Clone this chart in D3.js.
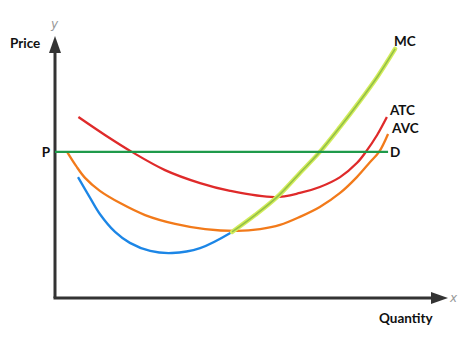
<!DOCTYPE html>
<html>
<head>
<meta charset="utf-8">
<script src="https://cdn.jsdelivr.net/npm/d3@7"></script>
<style>
  html, body { margin: 0; padding: 0; background: #fff; }
  svg { display: block; }
  .lbl { font-family: Lato, "Open Sans", sans-serif; font-weight: 700; font-size: 13.5px; fill: #111; }
  .axis-var { font-family: "DejaVu Sans", sans-serif; font-style: italic; font-size: 12px; fill: #999; }
</style>
</head>
<body>
<div id="chart"></div>
<script>
const W = 474, H = 355;

// curves: quantity (x) and price (y) in chart units 0..100
const atcQty   = [6, 12.8, 19.7, 28.2, 37.2, 44.9, 56.4, 62.8, 67.9, 73.1, 77.4, 79.7, 82.6, 85.1];
const atcPrice = [69.6, 62.7, 56.2, 49.2, 44.2, 41.2, 38.8, 40.4, 42.7, 46.5, 51.9, 56.2, 62.7, 69.6];

const avcQty   = [3.1, 5.4, 7.7, 11.5, 16.7, 23.1, 30.8, 38.5, 46.7, 52.6, 57.7, 62.8, 67.9, 73.1, 77.4, 80.8, 83.1, 85.4];
const avcPrice = [56.2, 50.8, 46.2, 41.2, 36.5, 31.9, 28.5, 26.5, 25.8, 26.5, 28.1, 31.2, 35.0, 40.4, 46.5, 52.3, 56.2, 63.1];

const mcQty   = [5.9, 9.0, 11.5, 15.4, 19.2, 24.4, 30.0, 37.2, 45.4, 51.3, 56.9, 62.8, 67.9, 73.1, 78.2, 82.8, 87.2];
const mcPrice = [46.5, 38.5, 32.3, 25.4, 21.2, 18.1, 17.3, 19.2, 25.4, 31.9, 38.8, 48.1, 56.2, 65.8, 75.8, 85.4, 95.8];
const mcSplit = 8; // MC meets AVC here: blue below, lime above

const priceP = 56.2;
const demandQty = [0, 85.4];

const svg = d3.select("#chart").append("svg")
  .attr("width", W).attr("height", H);

const x = d3.scaleLinear().domain([0, 100]).range([55, 445]);
const y = d3.scaleLinear().domain([0, 100]).range([298, 38]);

const line = d3.line()
  .x(d => x(d[0])).y(d => y(d[1]))
  .curve(d3.curveCatmullRom.alpha(0.5));

const zip = (a, b) => a.map((v, i) => [v, b[i]]);

// axes
svg.append("line")
  .attr("x1", x(0)).attr("y1", y(0)).attr("x2", x(0)).attr("y2", 50)
  .attr("stroke", "#333").attr("stroke-width", 3);
svg.append("path")
  .attr("d", `M${x(0)},36 L${x(0) - 6},53 L${x(0) + 6},53 Z`)
  .attr("fill", "#333");
svg.append("line")
  .attr("x1", x(0) - 1.5).attr("y1", y(0)).attr("x2", 433).attr("y2", y(0))
  .attr("stroke", "#333").attr("stroke-width", 3);
svg.append("path")
  .attr("d", `M448,${y(0)} L431,${y(0) - 6} L431,${y(0) + 6} Z`)
  .attr("fill", "#333");

svg.append("text").attr("class", "axis-var").attr("x", 51).attr("y", 28).text("y");
svg.append("text").attr("class", "axis-var").attr("x", 450).attr("y", 302).text("x");
svg.append("text").attr("class", "lbl").attr("x", 10).attr("y", 48).text("Price");
svg.append("text").attr("class", "lbl").attr("x", 379).attr("y", 323).text("Quantity");

// ATC
svg.append("path").datum(zip(atcQty, atcPrice))
  .attr("d", line).attr("fill", "none")
  .attr("stroke", "#df2a2a").attr("stroke-width", 2.3);

// AVC
svg.append("path").datum(zip(avcQty, avcPrice))
  .attr("d", line).attr("fill", "none")
  .attr("stroke", "#f27a1a").attr("stroke-width", 2.3);

// MC: lower part blue, upper part lime
const mc = zip(mcQty, mcPrice);
svg.append("path").datum(mc.slice(0, mcSplit + 1))
  .attr("d", line).attr("fill", "none")
  .attr("stroke", "#1c86e6").attr("stroke-width", 2.3);
const mcUp = mc.slice(mcSplit);
svg.append("path").datum(mcUp)
  .attr("d", line).attr("fill", "none")
  .attr("stroke", "#d2ec5a").attr("stroke-width", 4.5).attr("stroke-linecap", "round");
svg.append("path").datum(mcUp)
  .attr("d", line).attr("fill", "none")
  .attr("stroke", "#93c047").attr("stroke-width", 1.6);

// demand / price line
svg.append("line")
  .attr("x1", x(demandQty[0])).attr("x2", x(demandQty[1]))
  .attr("y1", y(priceP)).attr("y2", y(priceP))
  .attr("stroke", "#1f9a4b").attr("stroke-width", 2.3);

svg.append("text").attr("class", "lbl").attr("x", x(0) - 5).attr("y", y(priceP) + 5)
  .attr("text-anchor", "end").text("P");
svg.append("text").attr("class", "lbl").attr("x", x(demandQty[1]) + 2).attr("y", y(priceP) + 5).text("D");

svg.append("text").attr("class", "lbl").attr("x", x(mcQty[mcQty.length - 1]) - 1).attr("y", 46).text("MC");
svg.append("text").attr("class", "lbl").attr("x", x(atcQty[atcQty.length - 1]) + 3).attr("y", 115).text("ATC");
svg.append("text").attr("class", "lbl").attr("x", x(avcQty[avcQty.length - 1]) + 4).attr("y", 133).text("AVC");
</script>
</body>
</html>
